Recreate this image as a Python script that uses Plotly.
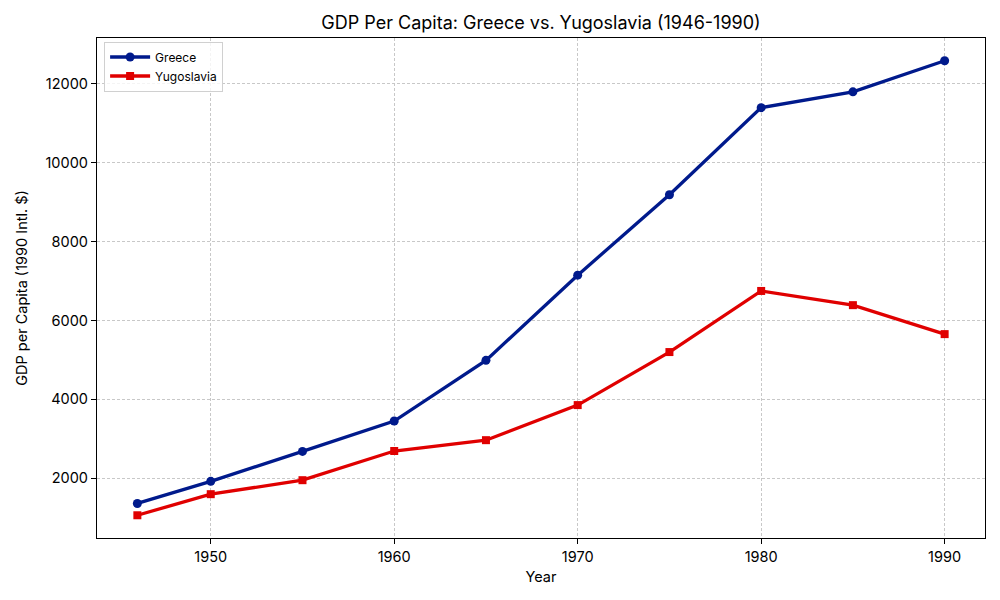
import plotly.graph_objects as go

years = [1946, 1950, 1955, 1960, 1965, 1970, 1975, 1980, 1985, 1990]
greece = [1360, 1920, 2680, 3450, 4990, 7150, 9190, 11400, 11800, 12590]
yugoslavia = [1060, 1595, 1950, 2690, 2965, 3855, 5200, 6750, 6390, 5655]
tick_years = [1950, 1960, 1970, 1980, 1990]
tick_vals_y = [2000, 4000, 6000, 8000, 10000, 12000]

FONT = "Inter, Noto Sans, sans-serif"

fig = go.Figure()
fig.add_trace(go.Scatter(x=years, y=greece, mode="lines+markers", name="Greece",
                         line=dict(color="#001a8c", width=3.3),
                         marker=dict(symbol="circle", size=9, color="#001a8c")))
fig.add_trace(go.Scatter(x=years, y=yugoslavia, mode="lines+markers", name="Yugoslavia",
                         line=dict(color="#e00000", width=3.3),
                         marker=dict(symbol="square", size=8, color="#e00000")))

lo, hi = min(yugoslavia), max(greece)
pad = (hi - lo) * 0.05
xpad = (years[-1] - years[0]) * 0.05

axis_common = dict(showline=True, linecolor="black", linewidth=1.3, mirror=True,
                   ticks="outside", ticklen=5, tickcolor="black",
                   showgrid=True, gridcolor="#c8c8c8", griddash="3px,2px", gridwidth=1,
                   zeroline=False, tickfont=dict(family=FONT, size=14.5, color="black"))

fig.update_layout(
    width=1000, height=600,
    margin=dict(l=97, r=15, t=38, b=62),
    paper_bgcolor="white", plot_bgcolor="white",
    title=dict(text="GDP Per Capita: Greece vs. Yugoslavia (1946-1990)", x=0.541, xanchor="center",
               y=0.963, yanchor="middle", font=dict(family=FONT, size=18, color="black")),
    xaxis=dict(range=[years[0] - xpad, years[-1] + xpad], tickvals=tick_years,
               title=dict(text="Year", font=dict(family=FONT, size=14.5, color="black"), standoff=8),
               **axis_common),
    yaxis=dict(range=[lo - pad, hi + pad], tickvals=tick_vals_y, tickformat="d",
               title=dict(text="GDP per Capita (1990 Intl. $)", font=dict(family=FONT, size=14.5, color="black"), standoff=14),
               **axis_common),
    legend=dict(x=0.008, y=0.993, xanchor="left", yanchor="top",
                bgcolor="rgba(255,255,255,0.8)", bordercolor="#d0d0d0", borderwidth=1,
                font=dict(family=FONT, size=12, color="black"), itemwidth=40, tracegroupgap=0),
    showlegend=True,
)

fig.write_html("out.html")
